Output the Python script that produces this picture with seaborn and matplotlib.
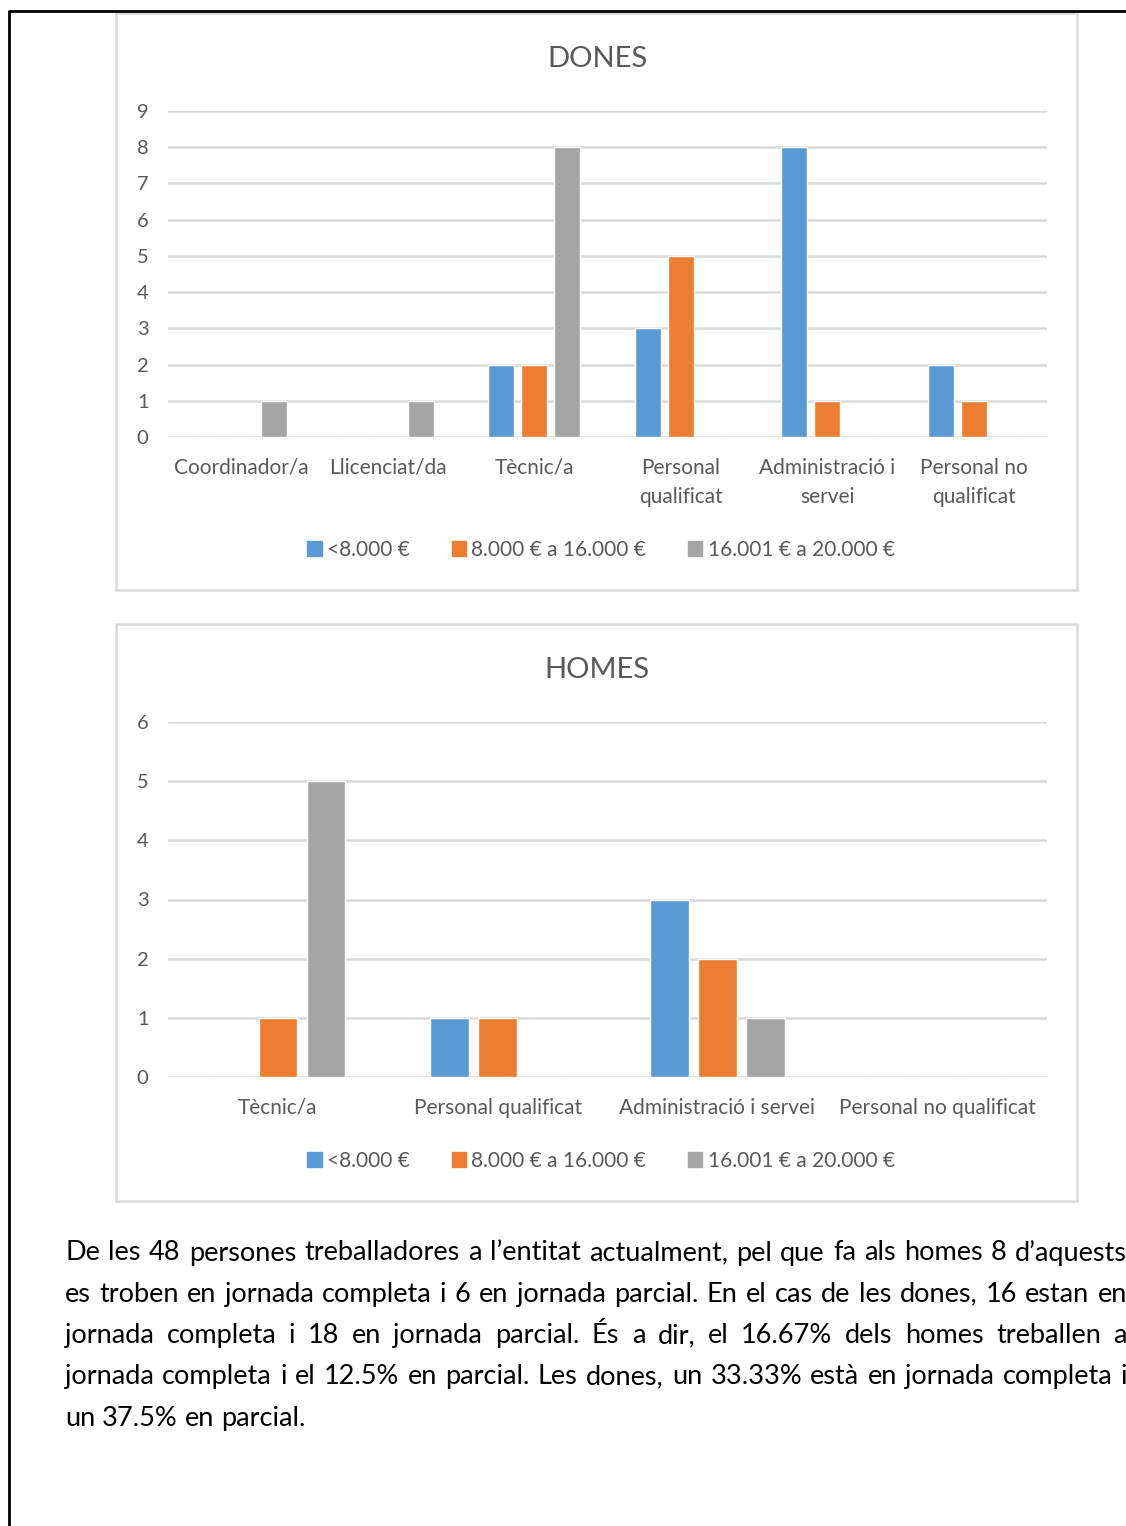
import pandas as pd
import seaborn as sns
import matplotlib.pyplot as plt
from matplotlib.patches import Rectangle
from matplotlib.lines import Line2D

# Data
series = ["<8.000 €", "8.000 € a 16.000 €", "16.001 € a 20.000 €"]
colors = ["#5B9BD5", "#ED7D31", "#A5A5A5"]

dones_cats = ["Coordinador/a", "Llicenciat/da", "Tècnic/a",
              "Personal\nqualificat", "Administració i\nservei", "Personal no\nqualificat"]
dones_low = [0, 0, 2, 3, 8, 2]
dones_mid = [0, 0, 2, 5, 1, 1]
dones_high = [1, 1, 8, 0, 0, 0]

homes_cats = ["Tècnic/a", "Personal qualificat", "Administració i servei", "Personal no qualificat"]
homes_low = [0, 1, 3, 0]
homes_mid = [1, 1, 2, 0]
homes_high = [5, 0, 1, 0]

paragraph = [
    "De les 48 persones treballadores a l’entitat actualment, pel que fa als homes 8 d’aquests",
    "es troben en jornada completa i 6 en jornada parcial. En el cas de les dones, 16 estan en",
    "jornada completa i 18 en jornada parcial. És a dir, el 16.67% dels homes treballen a",
    "jornada completa i el 12.5% en parcial. Les dones, un 33.33% està en jornada completa i",
    "un 37.5% en parcial.",
]

W, H = 1126, 1526
sns.set_theme(style="white")
plt.rcParams['font.family'] = ['Lato', 'DejaVu Sans']
TXT = "#595959"
GRID = "#D9D9D9"

fig = plt.figure(figsize=(W / 100, H / 100), dpi=100)


def long_df(cats, low, mid, high):
    rows = []
    for vals, s in zip([low, mid, high], series):
        for c, v in zip(cats, vals):
            rows.append({"cat": c, "serie": s, "val": v})
    return pd.DataFrame(rows)


def chart(cats, low, mid, high, title, ymax, frame, plot_box, width, gap, legend_y):
    # frame = (x0, y0, x1, y1) pixels from top
    fx0, fy0, fx1, fy1 = frame
    fig.patches.append(Rectangle((fx0 / W, 1 - fy1 / H), (fx1 - fx0) / W, (fy1 - fy0) / H,
                                 transform=fig.transFigure, fill=False,
                                 edgecolor=GRID, lw=1.8, zorder=0))
    px0, py_top, px1, py_bot = plot_box
    ax = fig.add_axes([px0 / W, 1 - py_bot / H, (px1 - px0) / W, (py_bot - py_top) / H])
    df = long_df(cats, low, mid, high)
    sns.barplot(data=df, x="cat", y="val", hue="serie", palette=colors,
                order=cats, hue_order=series, width=width, gap=gap,
                ax=ax, legend=False, saturation=1)
    ax.set_ylim(0, ymax)
    ax.set_xlim(-0.5, len(cats) - 0.5)
    ax.set_yticks(range(0, ymax + 1))
    ax.yaxis.grid(True, color=GRID, lw=1.8)
    ax.set_axisbelow(True)
    for s in ax.spines.values():
        s.set_visible(False)
    ax.tick_params(axis="y", length=0, labelsize=14.5, colors=TXT, pad=14)
    ax.tick_params(axis="x", length=0, labelsize=15, colors=TXT, pad=15)
    for lab in ax.get_xticklabels():
        lab.set_linespacing(1.55)
    ax.set_xlabel("")
    ax.set_ylabel("")
    fig.text(597 / W, 1 - (fy0 + 46) / H, title, ha="center", va="center",
             fontsize=21, color=TXT)
    handles = [Rectangle((0, 0), 1, 1, color=c) for c in colors]
    fig.legend(handles, series, loc="center", bbox_to_anchor=(601 / W, 1 - legend_y / H),
               ncol=3, frameon=False, fontsize=15, labelcolor=TXT,
               handlelength=0.7, handleheight=0.7, handletextpad=0.25,
               columnspacing=2.0)
    return ax


chart(dones_cats, dones_low, dones_mid, dones_high, "DONES", 9,
      (116, 13, 1077, 590), (168, 111, 1047, 437), 0.675, 0.21, 550)
chart(homes_cats, homes_low, homes_mid, homes_high, "HOMES", 6,
      (116, 624, 1077, 1201), (168, 722, 1047, 1077), 0.655, 0.2, 1161)

# page border
fig.lines.append(Line2D([9 / W, 9 / W, 1126 / W], [0, 1 - 11 / H, 1 - 11 / H],
                        transform=fig.transFigure, color="black", lw=2))

# justified paragraph
renderer = fig.canvas.get_renderer()
FS = 19.5
left, right = 65, 1127
probe = fig.text(0, 0, "a a", fontsize=FS)
probe2 = fig.text(0, 0, "aa", fontsize=FS)
normal_space = probe.get_window_extent(renderer).width - probe2.get_window_extent(renderer).width
probe.remove()
probe2.remove()
for i, line in enumerate(paragraph):
    y = 1 - (1253 + i * 41.3) / H
    words = line.split(" ")
    items = [fig.text(0, y, w, fontsize=FS, color="black", va="center", ha="left")
             for w in words]
    widths = [t.get_window_extent(renderer).width for t in items]
    space = normal_space
    if i < len(paragraph) - 1 and len(words) > 1:
        space = (right - left - sum(widths)) / (len(words) - 1)
    x = left
    for t, w in zip(items, widths):
        t.set_x(x / W)
        x += w + space

fig.savefig("out.png", dpi=100)
